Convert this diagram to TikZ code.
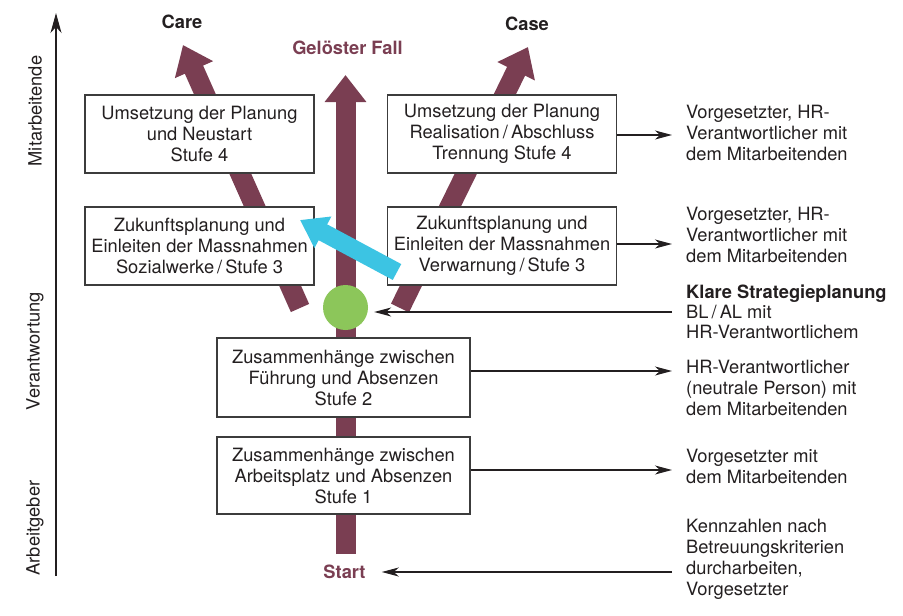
\documentclass[tikz,border=0pt]{standalone}
\usepackage{fontspec}
\setmainfont{TeX Gyre Heros}
\usetikzlibrary{arrows.meta,calc}
\definecolor{fallred}{RGB}{122,62,82}
\definecolor{hubgreen}{RGB}{140,198,90}
\definecolor{cyanarrow}{RGB}{60,196,227}
\definecolor{boxgray}{RGB}{60,60,60}
\definecolor{txt}{RGB}{35,31,32}
\begin{document}
\begin{tikzpicture}[x=1pt,y=-1pt,
  every node/.style={font=\fontsize{18.3}{21}\selectfont, text=txt},
  stagebox/.style={draw=boxgray, line width=1.1pt, fill=white, minimum width=229pt, minimum height=78pt, inner sep=0pt, align=center},
  widebox/.style={stagebox, minimum width=253pt},
  bigarrow/.style={draw=fallred, line width=20pt, -{Triangle[length=27pt,width=40pt]}},
  bluearrow/.style={draw=cyanarrow, line width=18pt, -{Triangle[length=26pt,width=34pt]}},
  thinarrow/.style={draw=txt, line width=1.1pt, -{Stealth[length=17pt,width=9pt,inset=5pt]}},
  thinline/.style={draw=txt, line width=1.1pt},
  sidetext/.style={anchor=west, align=left, inner sep=0pt},
  heading/.style={inner sep=0pt, font=\fontsize{18.3}{21}\selectfont\bfseries},
  axislabel/.style={inner sep=0pt, rotate=90}
]
\useasboundingbox (0,0) rectangle (903,616);

% axis
\coordinate (axB) at (56,576);
\coordinate (axT) at (56,13);
\draw[draw=txt, line width=1.1pt, -{Stealth[length=20pt,width=11pt,inset=6pt]}] (axB) -- (axT);
\node[axislabel] (lblM) at (35,111) {Mitarbeitende};
\node[axislabel] (lblV) at (35,351) {Verantwortung};
\node[axislabel] (lblA) at (35,528) {Arbeitgeber};

% big maroon arrows
\coordinate (careS) at (300,308);
\coordinate (careT) at (183,45);
\coordinate (caseS) at (400,308);
\coordinate (caseT) at (528,47);
\coordinate (midS) at (345.5,554);
\coordinate (midT) at (345.5,75);
\draw[bigarrow] (careS) -- (careT);
\draw[bigarrow] (caseS) -- (caseT);
\draw[bigarrow] (midS) -- (midT);

% boxes
\node[stagebox] (L4) at (199.5,134) {Umsetzung der Planung\\und Neustart\\Stufe 4};
\node[stagebox] (L3) at (199.5,246) {Zukunftsplanung und\\Einleiten der Massnahmen\\Sozialwerke\,/\,Stufe 3};
\node[stagebox] (R4) at (502,134) {Umsetzung der Planung\\Realisation\,/\,Abschluss\\Trennung Stufe 4};
\node[stagebox] (R3) at (502,246) {Zukunftsplanung und\\Einleiten der Massnahmen\\Verwarnung\,/\,Stufe 3};
\node[widebox, minimum height=79pt] (S2) at (343.5,377.5) {Zusammenhänge zwischen\\Führung und Absenzen\\Stufe 2};
\node[widebox, minimum height=77pt] (S1) at (343.5,475.5) {Zusammenhänge zwischen\\Arbeitsplatz und Absenzen\\Stufe 1};

% hub
\node[circle, fill=hubgreen, minimum size=45pt, inner sep=0pt] (hub) at (345.5,307.5) {};

% blue arrow
\coordinate (blueS) at (397,272);
\coordinate (blueT) at (300,220);
\draw[bluearrow] (blueS) -- (blueT);

% headings
\node[heading] (care) at (182,22) {Care};
\node[heading] (case) at (527,24) {Case};
\node[heading, text=fallred] (fall) at (347.5,48) {Gelöster Fall};
\node[heading, text=fallred] (start) at (344.5,572) {Start};

% side texts
\node[sidetext] (g1) at (686,133) {Vorgesetzter, HR-\\Verantwortlicher mit\\dem Mitarbeitenden};
\node[sidetext] (g2) at (686,235) {Vorgesetzter, HR-\\Verantwortlicher mit\\dem Mitarbeitenden};
\node[sidetext, font=\fontsize{18.3}{20}\selectfont] (g3) at (686,312) {\textbf{Klare Strategieplanung}\\BL\,/\,AL mit\\HR-Verantwortlichem};
\node[sidetext] (g4) at (686,388) {HR-Verantwortlicher\\(neutrale Person) mit\\dem Mitarbeitenden};
\node[sidetext] (g5) at (686,466.5) {Vorgesetzter mit\\dem Mitarbeitenden};
\node[sidetext] (g6) at (686,559) {Kennzahlen nach\\Betreuungskriterien\\durcharbeiten,\\Vorgesetzter};

% connectors
\coordinate (a1) at (672,135);
\coordinate (a2) at (672,244);
\coordinate (a3) at (672,312);
\coordinate (a4) at (672,371);
\coordinate (a5) at (672,470);
\coordinate (a6) at (672,572);
\draw[thinarrow] (R4.east |- a1) -- (a1);
\draw[thinarrow] (R3.east |- a2) -- (a2);
\draw[thinarrow, shorten >=6pt] (a3) -- (a3 -| hub.east);
\draw[thinarrow] (S2.east |- a4) -- (a4);
\draw[thinarrow] (S1.east |- a5) -- (a5);
\draw[thinarrow, shorten >=16pt] (a6) -- (a6 -| start.east);
\end{tikzpicture}
\end{document}
